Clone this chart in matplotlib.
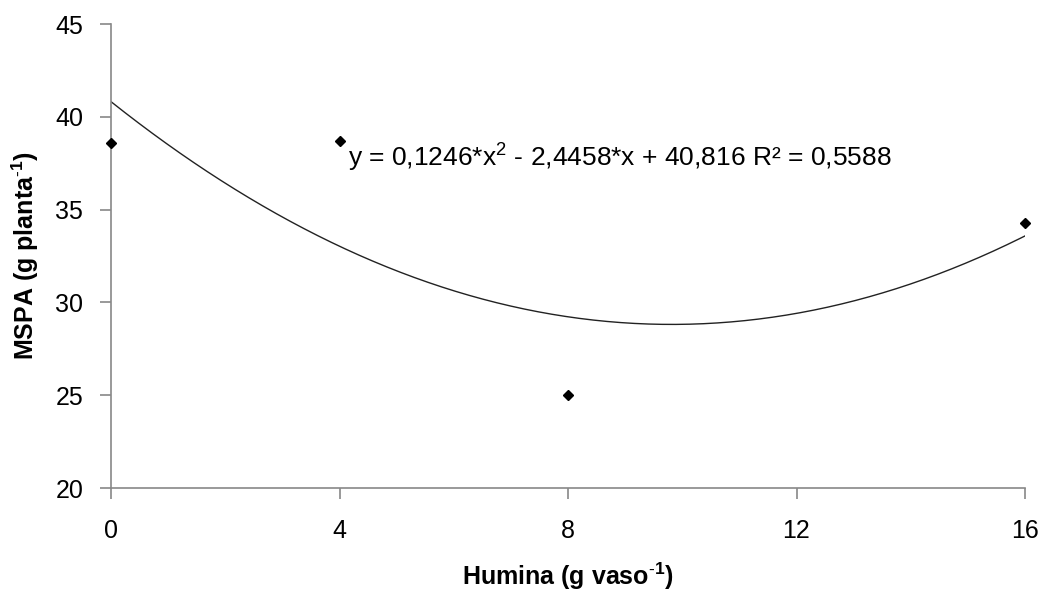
import numpy as np
import matplotlib
matplotlib.use("Agg")
import matplotlib.pyplot as plt

plt.rcParams['font.family'] = ['Liberation Sans', 'DejaVu Sans']
plt.rcParams['mathtext.fontset'] = 'custom'
plt.rcParams['mathtext.rm'] = 'Liberation Sans'
plt.rcParams['mathtext.it'] = 'Liberation Sans'
plt.rcParams['mathtext.bf'] = 'Liberation Sans:bold'

# Data
humina = [0, 4, 8, 16]
mspa = [38.6, 38.7, 25.0, 34.3]
fit_coeffs = [0.1246, -2.4458, 40.816]   # quadratic trendline y = a x^2 + b x + c
x_ticks = [0, 4, 8, 12, 16]
y_ticks = [20, 25, 30, 35, 40, 45]
equation = "y = 0,1246*x$^{2}$ - 2,4458*x + 40,816 R² = 0,5588"

fig = plt.figure(figsize=(10.45, 5.92), dpi=100)
ax = fig.add_axes([111/1045, 1 - 488/592, (1025 - 111)/1045, (488 - 24)/592])

xs = np.linspace(humina[0], humina[-1], 200)
ax.plot(xs, np.polyval(fit_coeffs, xs), color='#222222', lw=1.0, zorder=2)
ax.plot(humina, mspa, linestyle='none', marker='D', markersize=5.5,
        color='black', zorder=3, clip_on=False)

ax.set_xlim(0, 16)
ax.set_ylim(20, 45)
ax.set_xticks(x_ticks)
ax.set_yticks(y_ticks)

gray = '#888888'
for s in ['top', 'right']:
    ax.spines[s].set_visible(False)
for s in ['left', 'bottom']:
    ax.spines[s].set_color(gray)
    ax.spines[s].set_linewidth(1.2)
ax.tick_params(axis='both', direction='out', length=8, width=1.2, color=gray,
               labelsize=18, labelcolor='black')
ax.tick_params(axis='x', pad=14)
ax.tick_params(axis='y', pad=12)

ax.set_xlabel("Humina (g vaso$^{\\text{-}\\mathbf{1}}$)", fontsize=18, fontweight='bold', labelpad=13)
ax.set_ylabel("MSPA (g planta$^{\\text{-}\\mathbf{1}}$)", fontsize=18, fontweight='bold', labelpad=10)

ax.text(4.15, 37.3, equation, fontsize=19, color='black', ha='left', va='baseline')

fig.savefig("out.png", dpi=100, facecolor='white')
